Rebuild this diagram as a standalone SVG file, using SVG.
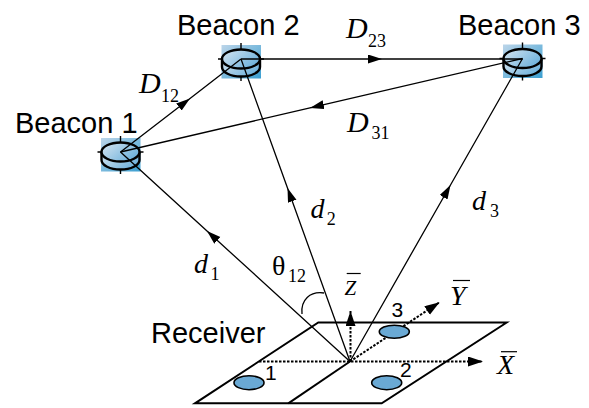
<svg xmlns="http://www.w3.org/2000/svg" xmlns:xlink="http://www.w3.org/1999/xlink" width="589" height="408" viewBox="0 0 589 408">
  <style>
    .name { font-family: "Liberation Sans", Arial, sans-serif; font-size: 29px; fill: #000; }
    .num { font-family: "Liberation Sans", Arial, sans-serif; font-size: 21px; fill: #000; }
    .math { font-family: "Liberation Serif", "Times New Roman", serif; font-style: italic; fill: #000; }
    .sub { font-family: "Liberation Serif", "Times New Roman", serif; font-size: 18px; fill: #000; }
    .link { fill: none; stroke: #000; stroke-width: 1.3; marker-mid: url(#arrow); }
    .axis { fill: none; stroke: #000; stroke-width: 2; stroke-dasharray: 2.5 1.5; }
    .plane { fill: none; stroke: #000; stroke-width: 2; stroke-linejoin: miter; }
    .elem { fill: #6aa9d4; stroke: #000; stroke-width: 1.6; }
    .bar { stroke: #000; stroke-width: 1.2; }
  </style>
  <defs>
    <linearGradient id="sq" x1="0" y1="0" x2="1" y2="1">
      <stop offset="0" stop-color="#bcd5e9"/>
      <stop offset="1" stop-color="#3b9fd1"/>
    </linearGradient>
    <linearGradient id="disk" x1="0" y1="0" x2="1" y2="0.6">
      <stop offset="0" stop-color="#d8e6f1"/>
      <stop offset="1" stop-color="#6fb2dc"/>
    </linearGradient>
    <marker id="arrow" markerWidth="16" markerHeight="12" refX="14" refY="4.5" orient="auto" markerUnits="userSpaceOnUse">
      <path d="M0,0 L14,4.5 L0,9 Z" fill="#000"/>
    </marker>
    <marker id="axhead" markerWidth="17" markerHeight="12" refX="15" refY="5" orient="auto" markerUnits="userSpaceOnUse">
      <path d="M0,0 L15,5 L0,10 Z" fill="#000"/>
    </marker>
    <!-- beacon disk, origin at the centre of the top face -->
    <g id="beacon">
      <rect x="-19.5" y="-14" width="39.5" height="33.5" fill="url(#sq)"/>
      <path d="M-19,0 V8 A19,9.5 0 0 0 19,8 V0" fill="url(#disk)" stroke="#000" stroke-width="2.4"/>
      <ellipse cx="0" cy="0" rx="19" ry="9.5" fill="url(#disk)" stroke="#000" stroke-width="2.4"/>
      <path d="M0,-16 V-9.5 M0,17.5 V22 M-23,0 H-19 M19,0 H23" stroke="#000" stroke-width="1.4"/>
    </g>
  </defs>

  <!-- beacons -->
  <g id="beacon1" transform="translate(120.5,152)"><use xlink:href="#beacon" href="#beacon"/></g>
  <g id="beacon2" transform="translate(241,59)"><use xlink:href="#beacon" href="#beacon"/></g>
  <g id="beacon3" transform="translate(522.5,58.5)"><use xlink:href="#beacon" href="#beacon"/></g>
  <g id="beacon-labels">
    <text class="name" x="15" y="133">Beacon 1</text>
    <text class="name" x="177" y="34.5">Beacon 2</text>
    <text class="name" x="458" y="34.5">Beacon 3</text>
  </g>

  <!-- receiver plate with local axes -->
  <g id="receiver">
    <path class="plane" d="M318.3,322.5 L506.7,322.5 L381.7,403.3 L195,403.3 Z"/>
    <path class="plane" d="M288.3,403.3 L350,361.5"/>
    <path class="axis" d="M259,361.5 H483" marker-end="url(#axhead)"/>
    <path class="axis" d="M350,361.5 L439.6,302.2" marker-end="url(#axhead)"/>
    <path class="axis" d="M350.5,361.5 V311" marker-end="url(#axhead)"/>
    <ellipse class="elem" cx="249" cy="382.7" rx="15" ry="7"/>
    <ellipse class="elem" cx="386.7" cy="382.7" rx="15" ry="7"/>
    <ellipse class="elem" cx="394.3" cy="331.7" rx="15" ry="6.5"/>
    <text class="num" x="265" y="380">1</text>
    <text class="num" x="400" y="377">2</text>
    <text class="num" x="391.5" y="317">3</text>
    <text class="name" x="151" y="343" font-size="28">Receiver</text>
    <text class="math" x="497" y="374" font-size="28">X</text>
    <line class="bar" x1="501" y1="351.7" x2="517" y2="351.7"/>
    <text class="math" x="450" y="305" font-size="28">Y</text>
    <line class="bar" x1="453" y1="280.5" x2="470" y2="280.5"/>
    <text class="math" x="344.5" y="295" font-size="21">Z</text>
    <line class="bar" x1="346.7" y1="273.5" x2="360.7" y2="273.5"/>
  </g>

  <!-- ranging links -->
  <g id="connectors">
    <path class="link" d="M120.5,152 L190,98.4 L241,59"/>
    <path class="link" d="M241,59 L382,59 L522.5,59"/>
    <path class="link" d="M522.5,58.5 L310,107.9 L120.5,152"/>
    <path class="link" d="M350,361.5 L207,231 L120.5,152"/>
    <path class="link" d="M350,361.5 L287.5,188 L241,59"/>
    <path class="link" d="M350,361.5 L450.5,185 L522.5,58.5"/>
    <path d="M302,314 C300.5,300 310,291 324,293" fill="none" stroke="#000" stroke-width="1.3"/>
  </g>

  <!-- link labels -->
  <g id="labels">
    <text class="math" x="139" y="93" font-size="30">D</text><text class="sub" x="161" y="102">12</text>
    <text class="math" x="346" y="38" font-size="30">D</text><text class="sub" x="368" y="46.7">23</text>
    <text class="math" x="347" y="131.7" font-size="30">D</text><text class="sub" x="371.5" y="139.3">31</text>
    <text class="math" x="194" y="273" font-size="28">d</text><text class="sub" x="210.5" y="280">1</text>
    <text class="math" x="310.5" y="218" font-size="28">d</text><text class="sub" x="326.7" y="225">2</text>
    <text class="math" x="472" y="210" font-size="28">d</text><text class="sub" x="490" y="217">3</text>
    <text x="272" y="275" font-family="Liberation Serif, Times New Roman, serif" font-size="28">θ</text><text class="sub" x="288" y="282">12</text>
  </g>
</svg>
